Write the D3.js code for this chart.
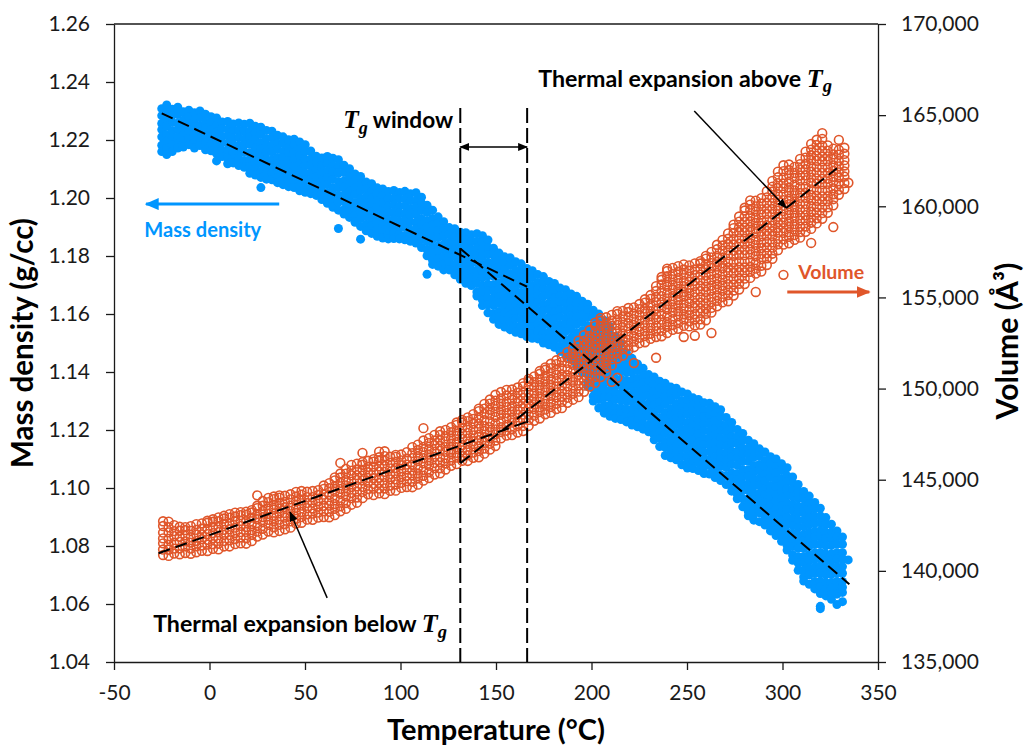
<!DOCTYPE html>
<html>
<head>
<meta charset="utf-8">
<script src="https://cdn.jsdelivr.net/npm/d3@7"></script>
<style>
  body { margin: 0; background: #fff; }
  svg { display: block; }
</style>
</head>
<body>
<svg id="chart" width="1024" height="748"></svg>
<script>
// axis ticks
const tempTicks = [-50, 0, 50, 100, 150, 200, 250, 300, 350];
const densityTicks = [1.04, 1.06, 1.08, 1.10, 1.12, 1.14, 1.16, 1.18, 1.20, 1.22, 1.24, 1.26];
const volumeTicks = [135000, 140000, 145000, 150000, 155000, 160000, 165000, 170000];

// Tg window (°C)
const tgWindow = [131.3, 166.3];

// dashed fits: [T, value] end points
const densityFitBelow = [[-25, 1.2292], [166.3, 1.1694]];
const densityFitAbove = [[131.3, 1.1826], [335, 1.0668]];
const volumeFitBelow = [[-26.7, 140964], [166.3, 148185]];
const volumeFitAbove = [[131.3, 145900], [328.5, 162084]];

// mass density samples: [T, density, density, ...]
const densityRows = [
[-25.0,1.2308,1.2284,1.2257,1.2236,1.2211,1.2182,1.2160],
[-22.4,1.2321,1.2294,1.2273,1.2248,1.2219,1.2197,1.2171,1.2150],
[-19.5,1.2306,1.2285,1.2260,1.2231,1.2209,1.2183,1.2160],
[-16.6,1.2313,1.2288,1.2259,1.2237,1.2211,1.2188,1.2172],
[-13.7,1.2297,1.2268,1.2246,1.2220,1.2197,1.2176],
[-10.8,1.2303,1.2281,1.2255,1.2232,1.2204,1.2184],
[-7.9,1.2294,1.2268,1.2245,1.2217,1.2197,1.2172],
[-5.0,1.2300,1.2277,1.2249,1.2229,1.2204,1.2181],
[-2.1,1.2289,1.2261,1.2241,1.2216,1.2193,1.2166],
[0.8,1.2280,1.2260,1.2235,1.2212,1.2185,1.2163],
[3.7,1.2276,1.2251,1.2228,1.2201,1.2179,1.2153,1.2128],
[6.6,1.2262,1.2239,1.2212,1.2190,1.2164,1.2143],
[9.5,1.2264,1.2237,1.2215,1.2189,1.2165,1.2138,1.2118],
[12.4,1.2255,1.2233,1.2207,1.2183,1.2156,1.2135,1.2121],
[15.3,1.2259,1.2233,1.2209,1.2182,1.2161,1.2136,1.2112],
[18.2,1.2254,1.2230,1.2203,1.2182,1.2157,1.2128,1.2106],
[21.1,1.2258,1.2231,1.2210,1.2185,1.2156,1.2134,1.2108,1.2085],
[24.0,1.2247,1.2226,1.2201,1.2172,1.2150,1.2124,1.2101,1.2079],
[26.9,1.2244,1.2219,1.2190,1.2168,1.2142,1.2119,1.2091,1.2071,1.2036],
[29.8,1.2233,1.2204,1.2182,1.2156,1.2133,1.2105,1.2085,1.2065],
[32.7,1.2230,1.2208,1.2182,1.2159,1.2131,1.2111,1.2086,1.2063],
[35.6,1.2216,1.2190,1.2167,1.2139,1.2119,1.2094,1.2071,1.2053],
[38.5,1.2211,1.2188,1.2160,1.2140,1.2115,1.2092,1.2065,1.2046],
[41.4,1.2201,1.2173,1.2153,1.2128,1.2105,1.2078,1.2056,1.2039],
[44.3,1.2203,1.2183,1.2158,1.2135,1.2108,1.2086,1.2060,1.2036],
[47.2,1.2193,1.2168,1.2145,1.2118,1.2096,1.2070,1.2046,1.2025],
[50.1,1.2184,1.2161,1.2134,1.2112,1.2086,1.2062,1.2035,1.2020],
[53.0,1.2162,1.2135,1.2113,1.2087,1.2063,1.2036,1.2015],
[55.9,1.2144,1.2122,1.2096,1.2072,1.2045,1.2024,1.2009],
[58.8,1.2138,1.2112,1.2088,1.2061,1.2040,1.2015,1.1995],
[61.7,1.2143,1.2119,1.2092,1.2071,1.2046,1.2017,1.1995,1.1982],
[64.6,1.2137,1.2110,1.2089,1.2064,1.2035,1.2013,1.1987,1.1968],
[67.5,1.2132,1.2111,1.2086,1.2057,1.2035,1.2009,1.1986,1.1958,1.1895],
[70.4,1.2113,1.2088,1.2059,1.2037,1.2011,1.1988,1.1960,1.1945],
[73.3,1.2101,1.2072,1.2050,1.2024,1.2001,1.1973,1.1953,1.1933],
[76.2,1.2083,1.2061,1.2035,1.2012,1.1984,1.1964,1.1939,1.1916],
[79.1,1.2074,1.2048,1.2025,1.1997,1.1977,1.1952,1.1929,1.1902,1.1858],
[82.0,1.2055,1.2032,1.2004,1.1984,1.1959,1.1936,1.1909,1.1887],
[84.9,1.2049,1.2021,1.2001,1.1976,1.1953,1.1926,1.1904,1.1878],
[87.8,1.2035,1.2015,1.1990,1.1967,1.1940,1.1918,1.1892,1.1868],
[90.7,1.2031,1.2006,1.1983,1.1956,1.1934,1.1908,1.1884,1.1862],
[93.6,1.2022,1.1999,1.1972,1.1950,1.1924,1.1900,1.1873,1.1859],
[96.5,1.2026,1.1999,1.1977,1.1951,1.1927,1.1900,1.1879,1.1860],
[99.4,1.2019,1.1997,1.1971,1.1947,1.1920,1.1899,1.1874,1.1859],
[102.3,1.2023,1.1997,1.1973,1.1946,1.1925,1.1900,1.1871,1.1856],
[105.2,1.2015,1.1991,1.1964,1.1943,1.1918,1.1889,1.1867,1.1851],
[108.1,1.2018,1.1991,1.1970,1.1945,1.1916,1.1894,1.1868,1.1845],
[111.0,1.2003,1.1982,1.1957,1.1928,1.1906,1.1880,1.1857,1.1829],
[113.9,1.1975,1.1950,1.1921,1.1899,1.1873,1.1850,1.1822,1.1801,1.1737],
[116.8,1.1958,1.1929,1.1907,1.1881,1.1858,1.1830,1.1810,1.1785,1.1771],
[119.7,1.1935,1.1913,1.1887,1.1864,1.1836,1.1816,1.1791,1.1765],
[122.6,1.1918,1.1892,1.1869,1.1841,1.1821,1.1796,1.1773,1.1752],
[125.5,1.1898,1.1875,1.1847,1.1827,1.1802,1.1779,1.1752],
[128.4,1.1894,1.1866,1.1846,1.1821,1.1798,1.1771,1.1749,1.1735],
[131.3,1.1882,1.1862,1.1837,1.1814,1.1787,1.1765,1.1739,1.1720],
[134.2,1.1880,1.1855,1.1832,1.1805,1.1783,1.1757,1.1733,1.1706],
[137.1,1.1873,1.1850,1.1823,1.1801,1.1775,1.1751,1.1724,1.1698],
[140.0,1.1877,1.1850,1.1828,1.1802,1.1778,1.1751,1.1730,1.1705,1.1676,1.1662],
[142.9,1.1870,1.1848,1.1822,1.1798,1.1771,1.1750,1.1725,1.1696,1.1674,1.1648,1.1629],
[145.8,1.1855,1.1829,1.1805,1.1778,1.1757,1.1732,1.1703,1.1681,1.1655,1.1632,1.1604],
[148.7,1.1827,1.1803,1.1776,1.1755,1.1730,1.1701,1.1679,1.1653,1.1630,1.1602,1.1582],
[151.6,1.1810,1.1783,1.1762,1.1737,1.1708,1.1686,1.1660,1.1637,1.1609,1.1589,1.1564],
[154.5,1.1797,1.1776,1.1751,1.1722,1.1700,1.1674,1.1651,1.1623,1.1603,1.1578,1.1555],
[157.4,1.1794,1.1769,1.1740,1.1718,1.1692,1.1669,1.1641,1.1621,1.1596,1.1573,1.1546],
[160.3,1.1780,1.1751,1.1729,1.1703,1.1680,1.1652,1.1632,1.1607,1.1584,1.1557,1.1537],
[163.2,1.1773,1.1751,1.1725,1.1702,1.1674,1.1654,1.1629,1.1606,1.1579,1.1557,1.1532],
[166.1,1.1757,1.1731,1.1708,1.1680,1.1660,1.1635,1.1612,1.1585,1.1563,1.1537,1.1522],
[169.0,1.1749,1.1726,1.1698,1.1678,1.1653,1.1630,1.1603,1.1581,1.1555,1.1531,1.1516],
[171.9,1.1736,1.1708,1.1688,1.1663,1.1640,1.1613,1.1591,1.1565,1.1541,1.1514],
[174.8,1.1729,1.1709,1.1684,1.1661,1.1634,1.1612,1.1586,1.1562,1.1535,1.1514,1.1500],
[177.7,1.1712,1.1687,1.1664,1.1637,1.1615,1.1589,1.1565,1.1538,1.1517,1.1494],
[180.6,1.1705,1.1682,1.1655,1.1633,1.1607,1.1583,1.1556,1.1535,1.1510,1.1485],
[183.5,1.1690,1.1663,1.1641,1.1615,1.1591,1.1564,1.1543,1.1518,1.1489,1.1471],
[186.4,1.1684,1.1662,1.1636,1.1612,1.1585,1.1564,1.1539,1.1510,1.1488,1.1460],
[189.3,1.1669,1.1643,1.1619,1.1592,1.1571,1.1546,1.1517,1.1495,1.1469,1.1445],
[192.2,1.1661,1.1637,1.1610,1.1589,1.1564,1.1535,1.1513,1.1487,1.1464,1.1436,1.1421],
[195.1,1.1644,1.1617,1.1596,1.1571,1.1542,1.1520,1.1494,1.1471,1.1443,1.1423,1.1398],
[198.0,1.1634,1.1613,1.1588,1.1559,1.1537,1.1511,1.1488,1.1460,1.1440,1.1415,1.1392,1.1365,1.1350],
[200.9,1.1613,1.1588,1.1559,1.1537,1.1511,1.1488,1.1460,1.1440,1.1415,1.1392,1.1365,1.1343,1.1317,1.1300],
[203.8,1.1600,1.1571,1.1549,1.1523,1.1500,1.1472,1.1452,1.1427,1.1404,1.1377,1.1355,1.1329,1.1305,1.1276],
[206.7,1.1578,1.1556,1.1530,1.1507,1.1479,1.1459,1.1434,1.1411,1.1384,1.1362,1.1336,1.1312,1.1285,1.1258],
[209.6,1.1557,1.1531,1.1508,1.1480,1.1460,1.1435,1.1412,1.1385,1.1363,1.1337,1.1313,1.1286,1.1265,1.1247],
[212.5,1.1523,1.1500,1.1472,1.1452,1.1427,1.1404,1.1377,1.1355,1.1329,1.1305,1.1278,1.1257,1.1240],
[215.4,1.1498,1.1470,1.1450,1.1425,1.1402,1.1375,1.1353,1.1327,1.1303,1.1276,1.1255,1.1236],
[218.3,1.1466,1.1446,1.1421,1.1398,1.1371,1.1349,1.1323,1.1299,1.1272,1.1251,1.1228],
[221.2,1.1447,1.1422,1.1399,1.1372,1.1350,1.1324,1.1300,1.1273,1.1252,1.1232,1.1217],
[224.1,1.1428,1.1405,1.1378,1.1356,1.1330,1.1306,1.1279,1.1258,1.1233,1.1211],
[227.0,1.1413,1.1386,1.1364,1.1338,1.1314,1.1287,1.1266,1.1241,1.1220,1.1203],
[229.9,1.1391,1.1369,1.1343,1.1319,1.1292,1.1271,1.1246,1.1217,1.1194],
[232.8,1.1383,1.1357,1.1333,1.1306,1.1285,1.1260,1.1231,1.1209,1.1183,1.1166],
[235.7,1.1368,1.1344,1.1317,1.1296,1.1271,1.1242,1.1220,1.1194,1.1171,1.1143],
[238.6,1.1361,1.1334,1.1313,1.1288,1.1259,1.1237,1.1211,1.1188,1.1160,1.1140,1.1112],
[241.5,1.1348,1.1327,1.1302,1.1273,1.1251,1.1225,1.1202,1.1174,1.1154,1.1129,1.1104],
[244.4,1.1344,1.1319,1.1290,1.1268,1.1242,1.1219,1.1191,1.1171,1.1146,1.1123,1.1097],
[247.3,1.1331,1.1302,1.1280,1.1254,1.1231,1.1203,1.1183,1.1158,1.1135,1.1108,1.1080],
[250.2,1.1324,1.1302,1.1276,1.1253,1.1225,1.1205,1.1180,1.1157,1.1130,1.1108,1.1087,1.1069],
[253.1,1.1311,1.1285,1.1262,1.1234,1.1214,1.1189,1.1166,1.1139,1.1117,1.1091,1.1067],
[256.0,1.1305,1.1282,1.1254,1.1234,1.1209,1.1186,1.1159,1.1137,1.1111,1.1087,1.1060],
[258.9,1.1294,1.1266,1.1246,1.1221,1.1198,1.1171,1.1149,1.1123,1.1099,1.1072,1.1050],
[261.8,1.1292,1.1272,1.1247,1.1224,1.1197,1.1175,1.1149,1.1125,1.1098,1.1077,1.1048],
[264.7,1.1280,1.1255,1.1232,1.1205,1.1183,1.1157,1.1133,1.1106,1.1085,1.1060,1.1036],
[267.6,1.1270,1.1247,1.1220,1.1198,1.1172,1.1148,1.1121,1.1100,1.1075,1.1046,1.1026],
[270.5,1.1243,1.1216,1.1194,1.1168,1.1144,1.1117,1.1096,1.1071,1.1042,1.1012],
[273.4,1.1226,1.1204,1.1178,1.1154,1.1127,1.1106,1.1081,1.1052,1.1030,1.1004,1.0989],
[276.3,1.1202,1.1176,1.1152,1.1125,1.1104,1.1079,1.1050,1.1028,1.1002,1.0979,1.0963],
[279.2,1.1188,1.1164,1.1137,1.1116,1.1091,1.1062,1.1040,1.1014,1.0991,1.0963,1.0935],
[282.1,1.1165,1.1138,1.1117,1.1092,1.1063,1.1041,1.1015,1.0992,1.0964,1.0944,1.0919,1.0904],
[285.0,1.1153,1.1132,1.1107,1.1078,1.1056,1.1030,1.1007,1.0979,1.0959,1.0934,1.0911,1.0889],
[287.9,1.1135,1.1110,1.1081,1.1059,1.1033,1.1010,1.0982,1.0962,1.0937,1.0914,1.0884],
[290.8,1.1124,1.1095,1.1073,1.1047,1.1024,1.0996,1.0976,1.0951,1.0928,1.0901,1.0872],
[293.7,1.1108,1.1086,1.1060,1.1037,1.1009,1.0989,1.0964,1.0941,1.0914,1.0892,1.0866,1.0852],
[296.6,1.1100,1.1074,1.1051,1.1023,1.1003,1.0978,1.0955,1.0928,1.0906,1.0880,1.0856,1.0836],
[299.5,1.1084,1.1061,1.1033,1.1013,1.0988,1.0965,1.0938,1.0916,1.0890,1.0866,1.0839,1.0816],
[302.4,1.1070,1.1042,1.1022,1.0997,1.0974,1.0947,1.0925,1.0899,1.0875,1.0848,1.0827,1.0802,1.0786],
[305.3,1.1038,1.1018,1.0993,1.0970,1.0943,1.0921,1.0895,1.0871,1.0844,1.0823,1.0798,1.0769,1.0751],
[308.2,1.1012,1.0987,1.0964,1.0937,1.0915,1.0889,1.0865,1.0838,1.0817,1.0792,1.0763,1.0741,1.0716],
[311.1,1.0988,1.0965,1.0938,1.0916,1.0890,1.0866,1.0839,1.0818,1.0793,1.0764,1.0742,1.0716,1.0693,1.0679],
[314.0,1.0972,1.0945,1.0923,1.0897,1.0873,1.0846,1.0825,1.0800,1.0771,1.0749,1.0723,1.0700,1.0668],
[316.9,1.0950,1.0928,1.0902,1.0878,1.0851,1.0830,1.0805,1.0776,1.0754,1.0728,1.0705,1.0677,1.0652],
[319.8,1.0930,1.0904,1.0880,1.0853,1.0832,1.0807,1.0778,1.0756,1.0730,1.0707,1.0679,1.0659,1.0636,1.0592,1.0584],
[322.7,1.0898,1.0874,1.0847,1.0826,1.0801,1.0772,1.0750,1.0724,1.0701,1.0673,1.0653,1.0628],
[325.6,1.0875,1.0848,1.0827,1.0802,1.0773,1.0751,1.0725,1.0702,1.0674,1.0654,1.0631,1.0616],
[328.5,1.0852,1.0831,1.0806,1.0777,1.0755,1.0729,1.0706,1.0678,1.0658,1.0634,1.0598],
[331.4,1.0831,1.0806,1.0777,1.0755,1.0729,1.0706,1.0678,1.0658,1.0640,1.0608],
[334.4,1.0752]
];

// volume samples: [T, volume, volume, ...] in cubic angstrom
const volumeRows = [
[-24.3,140870,141170,141510,141780,142100,142460,142720],
[-21.4,140820,141160,141430,141750,142110,142390,142700],
[-18.5,140950,141220,141540,141900,142180,142510],
[-15.6,140910,141230,141590,141870,142200,142420],
[-12.7,140980,141340,141620,141950,142240,142400],
[-9.8,140940,141220,141550,141840,142190,142450],
[-6.9,141020,141350,141640,141990,142250,142560],
[-4.0,141100,141390,141740,142000,142310,142600],
[-1.1,141090,141440,141700,142010,142300,142640,142750],
[1.8,141210,141470,141780,142070,142410,142690,142830],
[4.7,141180,141490,141780,142120,142400,142720,142930],
[7.6,141340,141630,141970,142250,142570,142870,143020],
[10.5,141340,141680,141960,142280,142580,142920,143110],
[13.4,141470,141750,142070,142370,142710,142980,143190],
[16.3,141510,141830,142130,142470,142740,143060,143220],
[19.2,141490,141790,142130,142400,142720,143080,143250],
[22.1,141630,141970,142240,142560,142920,143200,143330],
[25.0,141880,142150,142470,142830,143110,143440,143570,144140],
[27.9,141990,142310,142670,142950,143280,143570,143830],
[30.8,142160,142520,142800,143130,143420,143770,144000],
[33.7,142110,142390,142720,143010,143360,143620,143930,144080],
[36.6,142190,142520,142810,143160,143420,143730,144020,144140],
[39.5,142280,142570,142920,143180,143490,143780,144120],
[42.4,142370,142720,142980,143290,143580,143920,144200],
[45.3,142600,142860,143170,143460,143800,144080,144330],
[48.2,142640,142950,143240,143580,143860,144180,144380],
[51.1,142810,143100,143440,143720,144040,144340],
[54.0,142800,143140,143420,143740,144040,144380],
[56.9,142920,143200,143520,143820,144160,144430],
[59.8,142950,143270,143570,143910,144180,144500,144680],
[62.7,142940,143240,143580,143850,144170,144530,144810],
[65.6,143060,143400,143670,143990,144350,144630,144960,145130],
[68.5,143270,143540,143860,144220,144500,144830,145120,145340,145920],
[71.4,143400,143720,144080,144360,144690,144980,145330,145590],
[74.3,143630,143990,144270,144600,144890,145240,145500,145810],
[77.2,143740,144020,144350,144640,144990,145250,145560,145880],
[80.1,143990,144320,144610,144960,145220,145530,145820,145960,146470],
[83.0,144200,144490,144840,145100,145410,145700,146040],
[85.9,144160,144510,144770,145080,145370,145710,145990,146130],
[88.8,144250,144510,144820,145110,145450,145730,146050,146230,146540],
[91.7,144210,144520,144810,145150,145430,145750,146050,146290,146560],
[94.6,144390,144680,145020,145300,145620,145920,146260],
[97.5,144400,144740,145020,145340,145640,145980,146250,146360],
[100.4,144550,144830,145150,145450,145790,146060,146380],
[103.3,144600,144920,145220,145560,145830,146150,146510],
[106.2,144590,144890,145230,145500,145820,146180,146460,146790],
[109.1,144730,145070,145340,145660,146020,146300,146630,146920],
[112.0,144950,145220,145540,145900,146180,146510,146800,147150,147830],
[114.9,145090,145410,145770,146050,146380,146670,147020,147280],
[117.8,145280,145640,145920,146250,146540,146890,147150,147460],
[120.7,145350,145630,145960,146250,146600,146860,147170,147460,147660],
[123.6,145560,145890,146180,146530,146790,147100,147390,147730],
[126.5,145760,146050,146400,146660,146970,147260,147600,147880],
[129.4,145860,146210,146470,146780,147070,147410,147690,148010,148140],
[132.3,146040,146300,146610,146900,147240,147520,147840,148140,148280],
[135.2,146030,146340,146630,146970,147250,147570,147870,148210,148420],
[138.1,146200,146490,146830,147110,147430,147730,148070,148340,148600],
[141.0,146230,146570,146850,147170,147470,147810,148080,148400,148760,148900],
[143.9,146430,146710,147030,147330,147670,147940,148260,148620,148900,149160],
[146.8,146650,146970,147270,147610,147880,148200,148560,148840,149170,149400],
[149.7,146850,147150,147490,147760,148080,148440,148720,149050,149340,149660],
[152.6,147270,147610,147880,148200,148560,148840,149170,149460,149810],
[155.5,147420,147690,148010,148370,148650,148980,149270,149620,149930],
[158.4,147450,147770,148130,148410,148740,149030,149380,149640,149950],
[161.3,147590,147950,148230,148560,148850,149200,149460,149770,150060],
[164.2,147670,147950,148280,148570,148920,149180,149490,149780,150120,150300],
[167.1,147950,148280,148570,148920,149180,149490,149780,150120,150400,150530],
[170.0,148230,148520,148870,149130,149440,149730,150070,150350,150670],
[172.9,148360,148710,148970,149280,149570,149910,150190,150510,150810,150960],
[175.8,148590,148850,149160,149450,149790,150070,150390,150690,151030,151160],
[178.7,148670,148980,149270,149610,149890,150210,150510,150850,151120,151360],
[181.6,148880,149170,149510,149790,150110,150410,150750,151020,151340,151550],
[184.5,148930,149270,149550,149870,150170,150510,150780,151100,151460,151720],
[187.4,149220,149500,149820,150120,150460,150730,151050,151410,151690,152000],
[190.3,149390,149710,150010,150350,150620,150940,151300,151580,151910,152200],
[193.2,149530,149830,150170,150440,150760,151120,151400,151730,152020,152370,152630],
[196.1,149820,150160,150430,150750,151110,151390,151720,152010,152360,152620,152940],
[199.0,150110,150380,150700,151060,151340,151670,151960,152310,152570,152880,153200],
[201.9,150310,150630,150990,151270,151600,151890,152240,152500,152810,153100,153440,153620],
[204.8,150630,150990,151270,151600,151890,152240,152500,152810,153100,153440,153720,153880],
[207.7,150860,151140,151470,151760,152110,152370,152680,152970,153310,153590,153910],
[210.6,150370,151270,151600,151890,152240,152500,152810,153100,153440,153720,154040],
[213.5,150590,151650,151940,152290,152550,152860,153150,153490,153770,154090,154250],
[216.4,151810,152160,152420,152730,153020,153360,153640,153960,154260],
[219.3,152100,152360,152670,152960,153300,153580,153900,154200,154420],
[222.2,151400,152270,152580,152870,153210,153490,153810,154110,154450],
[225.1,152490,152780,153120,153400,153720,154020,154360,154640],
[228.0,152540,152880,153160,153480,153780,154120,154390,154710,154900],
[230.9,152730,153010,153330,153630,153970,154240,154560,154920,155130],
[233.8,151690,152830,153150,153450,153790,154060,154380,154740,155020,155350,155620],
[236.7,152870,153170,153510,153780,154100,154460,154740,155070,155360,155710,155970,156120],
[239.6,153050,153390,153660,153980,154340,154620,154950,155240,155590,155850,156160,156450,156580],
[242.5,153220,153490,153810,154170,154450,154780,155070,155420,155680,155990,156280,156620],
[245.4,153280,153600,153960,154240,154570,154860,155210,155470,155780,156070,156410,156720],
[248.3,152830,153440,153800,154080,154410,154700,155050,155310,155620,155910,156250,156530,156810],
[251.2,153410,153690,154020,154310,154660,154920,155230,155520,155860,156140,156460,156760],
[254.1,152900,153460,153790,154080,154430,154690,155000,155290,155630,155910,156230,156530,156870],
[257.0,153510,153800,154150,154410,154720,155010,155350,155630,155950,156250,156590,156860,156990],
[259.9,153750,154100,154360,154670,154960,155300,155580,155900,156200,156540,156810,157130,157280],
[262.8,153050,154170,154430,154740,155030,155370,155650,155970,156270,156610,156880,157200,157500],
[265.7,154510,154820,155110,155450,155730,156050,156350,156690,156960,157280,157640,157890],
[268.6,154730,155020,155360,155640,155960,156260,156600,156870,157190,157550,157850,158160],
[271.5,154790,155130,155410,155730,156030,156370,156640,156960,157320,157600,157930,158220,158510],
[274.4,155100,155380,155700,156000,156340,156610,156930,157290,157570,157900,158190,158540,158800,158990],
[277.3,155430,155750,156050,156390,156660,156980,157340,157620,157950,158240,158590,158850,159160,159440],
[280.2,155730,156030,156370,156640,156960,157320,157600,157930,158220,158570,158830,159140,159430,159770,159920],
[283.1,156070,156410,156680,157000,157360,157640,157970,158260,158610,158870,159180,159470,159810,160090,160320],
[286.0,155300,156310,156580,156900,157260,157540,157870,158160,158510,158770,159080,159370,159710,159990,160310],
[288.9,156420,156740,157100,157380,157710,158000,158350,158610,158920,159210,159550,159830,160150,160450],
[291.8,156780,157140,157420,157750,158040,158390,158650,158960,159250,159590,159870,160190,160490,160830],
[294.7,157120,157400,157730,158020,158370,158630,158940,159230,159570,159850,160170,160470,160810,161080,161390],
[297.6,157590,157920,158210,158560,158820,159130,159420,159760,160040,160360,160660,161000,161270,161590,161900],
[300.5,156240,157900,158190,158540,158800,159110,159400,159740,160020,160340,160640,160980,161250,161570,161930,162250],
[303.4,157970,158320,158580,158890,159180,159520,159800,160120,160420,160760,161030,161350,161710,161990,162290],
[306.3,158160,158420,158730,159020,159360,159640,159960,160260,160600,160870,161190,161550,161830,162160],
[309.2,158280,158590,158880,159220,159500,159820,160120,160460,160730,161050,161410,161690,162020,162310,162600],
[312.1,158600,158890,159230,159510,159830,160130,160470,160740,161060,161420,161700,162030,162320,162670,163000],
[315.0,157990,158760,159100,159380,159700,160000,160340,160610,160930,161290,161570,161900,162190,162540,162800,163110,163420],
[317.9,159060,159340,159660,159960,160300,160570,160890,161250,161530,161860,162150,162500,162760,163070,163360,163650],
[320.8,159310,159630,159930,160270,160540,160860,161220,161500,161830,162120,162470,162730,163040,163330,163700,164010],
[323.7,159640,159940,160280,160550,160870,161230,161510,161840,162130,162480,162740,163050,163340],
[326.6,158860,160050,160390,160660,160980,161340,161620,161950,162240,162590,162850,163160],
[329.5,160630,160900,161220,161580,161860,162190,162480,162830,163090,163640],
[332.4,160950,161270,161630,161910,162240,162530,162880,163210],
[334.5,161290]
];

const blue = '#0096ff';
const orange = '#e0562a';
const sans = 'Lato, "Open Sans", sans-serif';
const serif = '"Liberation Serif", "DejaVu Serif", serif';

const svg = d3.select('#chart');

const x = d3.scaleLinear().domain([-50, 350]).range([114, 878]);
const yDensity = d3.scaleLinear().domain([1.04, 1.26]).range([662, 24]);
const yVolume = d3.scaleLinear().domain([135000, 170000]).range([662, 24]);

const densityPoints = densityRows.flatMap(([t, ...vals]) => vals.map(v => ({t, v})));
const volumePoints = volumeRows.flatMap(([t, ...vals]) => vals.map(v => ({t, v})));

// arrow heads
const defs = svg.append('defs');
function arrowMarker(id, color, w, h) {
    defs.append('marker')
        .attr('id', id)
        .attr('viewBox', '0 0 10 10')
        .attr('refX', 9).attr('refY', 5)
        .attr('markerUnits', 'userSpaceOnUse')
        .attr('markerWidth', w).attr('markerHeight', h)
        .attr('preserveAspectRatio', 'none')
        .attr('orient', 'auto-start-reverse')
        .append('path')
        .attr('d', 'M0,0L10,5L0,10Z')
        .attr('fill', color);
}
arrowMarker('head-black', '#000', 10, 8);
arrowMarker('head-blue', blue, 14, 12);
arrowMarker('head-orange', orange, 14, 12);

// points
svg.append('g').selectAll('circle').data(densityPoints).join('circle')
    .attr('cx', d => x(d.t))
    .attr('cy', d => yDensity(d.v))
    .attr('r', 4.5)
    .attr('fill', blue);

svg.append('g').selectAll('circle').data(volumePoints).join('circle')
    .attr('cx', d => x(d.t))
    .attr('cy', d => yVolume(d.v))
    .attr('r', 4.4)
    .attr('fill', 'none')
    .attr('stroke', orange)
    .attr('stroke-width', 1.6);

// axes
const axisColor = '#1a1a1a';
const xAxis = svg.append('g').attr('transform', 'translate(0,662)')
    .call(d3.axisBottom(x).tickValues(tempTicks).tickFormat(d => String(d))
        .tickSize(8).tickSizeOuter(0).tickPadding(15));
const yAxisL = svg.append('g').attr('transform', 'translate(114,0)')
    .call(d3.axisLeft(yDensity).tickValues(densityTicks).tickFormat(d3.format('.2f'))
        .tickSize(8).tickSizeOuter(0).tickPadding(16));
const yAxisR = svg.append('g').attr('transform', 'translate(878,0)')
    .call(d3.axisRight(yVolume).tickValues(volumeTicks).tickFormat(d3.format(','))
        .tickSize(8).tickSizeOuter(0).tickPadding(15));

[xAxis, yAxisL, yAxisR].forEach(a => {
    a.attr('color', axisColor).attr('font-family', sans).attr('font-size', 21);
    a.selectAll('path, line').attr('stroke-width', 1.3);
});

svg.append('line')
    .attr('x1', x(-50)).attr('x2', x(350))
    .attr('y1', yDensity(1.26)).attr('y2', yDensity(1.26))
    .attr('stroke', axisColor).attr('stroke-width', 1.3);

// fit lines
function fitLine(pts, yScale) {
    svg.append('line')
        .attr('x1', x(pts[0][0])).attr('y1', yScale(pts[0][1]))
        .attr('x2', x(pts[1][0])).attr('y2', yScale(pts[1][1]))
        .attr('stroke', '#000').attr('stroke-width', 2)
        .attr('stroke-dasharray', '12,6');
}
fitLine(densityFitBelow, yDensity);
fitLine(densityFitAbove, yDensity);
fitLine(volumeFitBelow, yVolume);
fitLine(volumeFitAbove, yVolume);

// Tg window
tgWindow.forEach(t => {
    svg.append('line')
        .attr('x1', x(t)).attr('x2', x(t))
        .attr('y1', yDensity(1.231)).attr('y2', yDensity(1.04))
        .attr('stroke', '#000').attr('stroke-width', 2)
        .attr('stroke-dasharray', '15,5');
});

function arrow(t1, d1, t2, d2, color, width, marker, both) {
    const l = svg.append('line')
        .attr('x1', x(t1)).attr('y1', yDensity(d1))
        .attr('x2', x(t2)).attr('y2', yDensity(d2))
        .attr('stroke', color).attr('stroke-width', width)
        .attr('marker-end', `url(#${marker})`);
    if (both) l.attr('marker-start', `url(#${marker})`);
}
arrow(tgWindow[0], 1.2176, tgWindow[1], 1.2176, '#000', 1.5, 'head-black', true);
arrow(253.8, 1.2300, 301.9, 1.1966, '#000', 1.5, 'head-black');
arrow(61.6, 1.0621, 42.2, 1.0917, '#000', 1.5, 'head-black');
arrow(36.5, 1.1979, -33.2, 1.1979, blue, 3, 'head-blue');
arrow(302.5, 1.1676, 345.4, 1.1676, orange, 3, 'head-orange');

// fit a text element to a target width
function fitWidth(sel, target) {
    const w = sel.node().getBBox().width;
    const fs = parseFloat(sel.attr('font-size'));
    sel.attr('font-size', fs * target / w);
}

function tgLabel(t, d, before, after, width) {
    const txt = svg.append('text')
        .attr('x', x(t)).attr('y', yDensity(d))
        .attr('font-family', sans).attr('font-weight', 700)
        .attr('font-size', 20).attr('fill', '#000');
    if (before) txt.append('tspan').text(before);
    txt.append('tspan').attr('font-family', serif).attr('font-style', 'italic')
        .attr('font-size', '1.12em').text('T');
    txt.append('tspan').attr('font-family', serif).attr('font-style', 'italic')
        .attr('font-size', '0.8em').attr('dy', '0.3em').text('g');
    if (after) txt.append('tspan').attr('dy', '-0.24em').text(after);
    fitWidth(txt, width);
}
tgLabel(70, 1.2241, null, ' window', 110);
tgLabel(172.1, 1.2383, 'Thermal expansion above ', null, 294);
tgLabel(-29.5, 1.0503, 'Thermal expansion below ', null, 294);

const massLabel = svg.append('text')
    .attr('x', x(-34.1)).attr('y', yDensity(1.1866))
    .attr('font-family', sans).attr('font-weight', 700).attr('font-size', 19)
    .attr('fill', blue).text('Mass density');
fitWidth(massLabel, 118);

const volLabel = svg.append('text')
    .attr('x', x(308.2)).attr('y', yDensity(1.1719))
    .attr('font-family', sans).attr('font-weight', 700).attr('font-size', 19)
    .attr('fill', orange).text('Volume');
fitWidth(volLabel, 67);

// axis titles
const xTitle = svg.append('text')
    .attr('x', (x(-50) + x(350)) / 2).attr('y', 740)
    .attr('text-anchor', 'middle')
    .attr('font-family', sans).attr('font-weight', 700).attr('font-size', 26)
    .attr('fill', '#000').text('Temperature (°C)');
fitWidth(xTitle, 218);

const yTitleL = svg.append('text')
    .attr('transform', `translate(33,${(yDensity(1.04) + yDensity(1.26)) / 2}) rotate(-90)`)
    .attr('text-anchor', 'middle')
    .attr('font-family', sans).attr('font-weight', 700).attr('font-size', 26)
    .attr('fill', '#000').text('Mass density (g/cc)');
fitWidth(yTitleL, 250);

const yTitleR = svg.append('text')
    .attr('transform', `translate(1018,${(yVolume(135000) + yVolume(170000)) / 2 - 2}) rotate(-90)`)
    .attr('text-anchor', 'middle')
    .attr('font-family', sans).attr('font-weight', 700).attr('font-size', 26)
    .attr('fill', '#000').text('Volume (Å³)');
fitWidth(yTitleR, 158);
</script>
</body>
</html>
